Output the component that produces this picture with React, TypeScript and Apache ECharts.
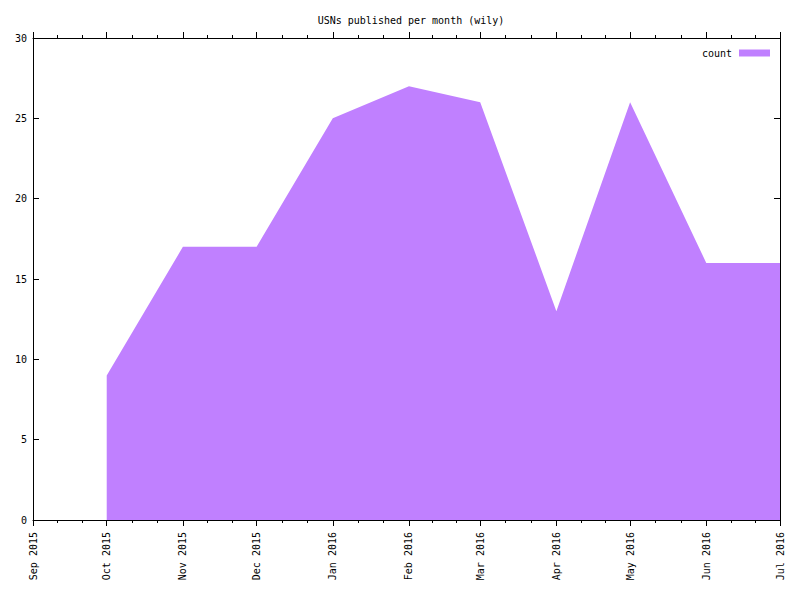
import React, { useEffect, useRef } from "react";
import * as echarts from "echarts";

const titleText = "USNs published per month (wily)";
const seriesName = "count";
// months as [year, monthIndex(0-based)]
const monthYears = [2015, 2015, 2015, 2016, 2016, 2016, 2016, 2016, 2016, 2016];
const monthIndexes = [9, 10, 11, 0, 1, 2, 3, 4, 5, 6];
const counts = [9, 17, 17, 25, 27, 26, 13, 26, 16, 16];
const monthNames = ["Jan", "Feb", "Mar", "Apr", "May", "Jun", "Jul", "Aug", "Sep", "Oct", "Nov", "Dec"];
const yTicks = [0, 5, 10, 15, 20, 25, 30];

const FONT = "DejaVu Sans Mono";
const COLOR = "#c080ff";
const DAY = 86400000;

export default function App() {
  const ref = useRef<HTMLDivElement>(null);
  useEffect(() => {
    if (!ref.current) return;
    const chart = echarts.init(ref.current, undefined, { renderer: "svg" });
    const xMin = new Date(2015, 8, 1).getTime();
    const xMax = new Date(2016, 6, 1).getTime();
    const data = counts.map((v, i) => [new Date(monthYears[i], monthIndexes[i], 1).getTime(), v]);
    const fmt = (v: number) => {
      const d = new Date(v);
      return `${monthNames[d.getMonth()]} ${d.getFullYear()}`;
    };
    const xCommon = {
      type: "time" as const,
      min: xMin,
      max: xMax,
      splitNumber: 10,
      minInterval: 28 * DAY,
      maxInterval: 31 * DAY,
      axisLine: { show: true, onZero: false, lineStyle: { color: "#000", width: 1 } },
      splitLine: { show: false },
      minorTick: { show: true, splitNumber: 3, length: 3, lineStyle: { color: "#000", width: 1 } },
    };
    chart.setOption({
      animation: false,
      backgroundColor: "#fff",
      textStyle: { fontFamily: FONT },
      title: {
        text: titleText,
        left: 406,
        textAlign: "center",
        top: 10,
        textStyle: { fontFamily: FONT, fontSize: 10, fontWeight: "normal", color: "#000" },
      },
      legend: {
        data: [seriesName],
        right: 25,
        top: 43,
        align: "right",
        itemWidth: 31,
        itemHeight: 7,
        icon: "rect",
        itemGap: 7,
        textStyle: { fontFamily: FONT, fontSize: 10, color: "#000", padding: [0, 2, 0, 0] },
      },
      grid: { left: 33, right: 20, top: 38, bottom: 80, show: false },
      xAxis: [
        {
          ...xCommon,
          position: "bottom",
          axisTick: { show: true, inside: false, length: 6, lineStyle: { color: "#000" } },
          axisLabel: {
            show: true,
            rotate: 90,
            margin: 12,
            color: "#000",
            fontFamily: FONT,
            fontSize: 10,
            showMinLabel: true,
            showMaxLabel: true,
            hideOverlap: false,
            formatter: (v: number) => fmt(v),
          },
        },
        {
          ...xCommon,
          position: "top",
          axisTick: { show: true, inside: false, length: 6, lineStyle: { color: "#000" } },
          axisLabel: { show: false },
        },
      ],
      yAxis: [
        {
          type: "value",
          min: yTicks[0],
          max: yTicks[yTicks.length - 1],
          interval: 5,
          position: "left",
          axisLine: { show: true, onZero: false, lineStyle: { color: "#000" } },
          axisTick: { show: true, inside: true, length: 6, lineStyle: { color: "#000" } },
          axisLabel: { color: "#000", fontFamily: FONT, fontSize: 10, margin: 6 },
          splitLine: { show: false },
        },
        {
          type: "value",
          min: yTicks[0],
          max: yTicks[yTicks.length - 1],
          interval: 5,
          position: "right",
          axisLine: { show: true, onZero: false, lineStyle: { color: "#000" } },
          axisTick: { show: true, inside: true, length: 6, lineStyle: { color: "#000" } },
          axisLabel: { show: false },
          splitLine: { show: false },
        },
      ],
      series: [
        {
          name: seriesName,
          type: "line",
          xAxisIndex: 0,
          yAxisIndex: 0,
          data,
          showSymbol: false,
          symbol: "none",
          color: COLOR,
          lineStyle: { width: 0, color: COLOR },
          areaStyle: { color: COLOR, opacity: 1 },
          itemStyle: { color: COLOR },
        },
        {
          type: "line",
          xAxisIndex: 1,
          yAxisIndex: 1,
          data: [],
        },
      ],
    });
    return () => chart.dispose();
  }, []);
  return <div ref={ref} style={{ width: 800, height: 600, position: "absolute", left: 0, top: 0 }} />;
}
